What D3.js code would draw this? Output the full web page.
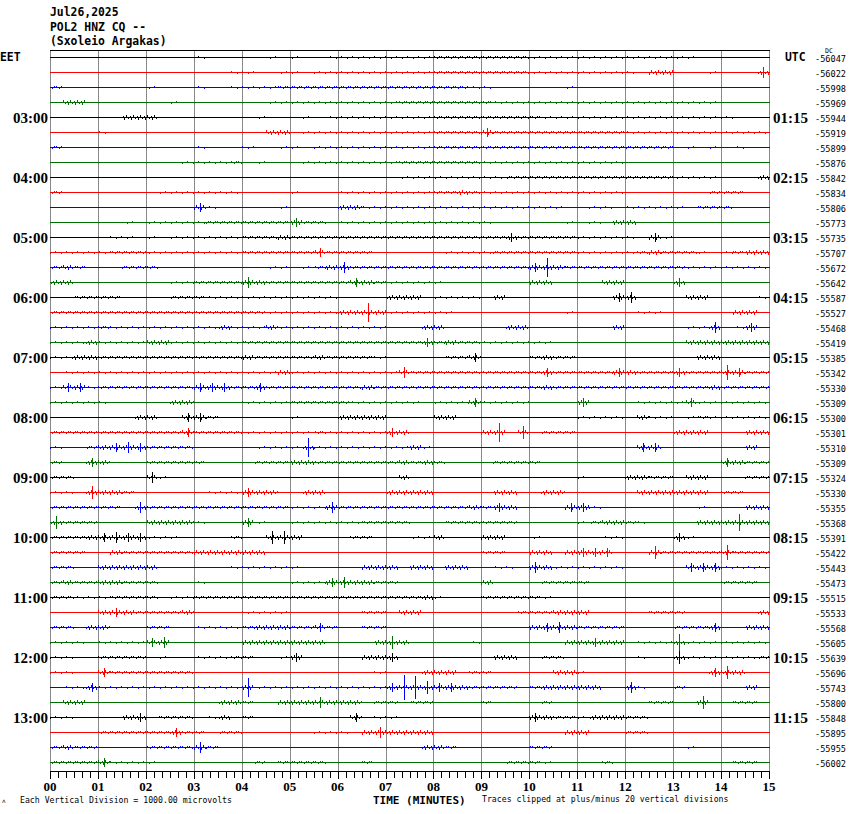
<!DOCTYPE html>
<html><head><meta charset="utf-8">
<script src="https://cdn.jsdelivr.net/npm/d3@7"></script>
<style>body{margin:0;background:#fff}svg{display:block}</style>
</head><body><svg id="c" width="850" height="814"></svg>
<script>
// ---------- data ----------
const headerLines = ["Jul26,2025", "POL2 HNZ CQ --", "(Sxoleio Argakas)"];
const labelRows = [4, 8, 12, 16, 20, 24, 28, 32, 36, 40, 44];
const eetLabels = ["03:00","04:00","05:00","06:00","07:00","08:00","09:00","10:00","11:00","12:00","13:00"];
const utcLabels = ["01:15","02:15","03:15","04:15","05:15","06:15","07:15","08:15","09:15","10:15","11:15"];
const minuteLabels = ["00","01","02","03","04","05","06","07","08","09","10","11","12","13","14","15"];
const dcValues = [-56047,-56022,-55998,-55969,-55944,-55919,-55899,-55876,-55842,-55834,-55806,-55773,
  -55735,-55707,-55672,-55642,-55587,-55527,-55468,-55419,-55385,-55342,-55330,-55309,
  -55300,-55301,-55310,-55309,-55324,-55330,-55355,-55368,-55391,-55422,-55443,-55473,
  -55515,-55533,-55568,-55605,-55639,-55696,-55743,-55800,-55848,-55895,-55955,-56002];
// amplitude envelope per 15-second bin (4 per minute), hex digit = px level
const traceEnvelopes = [
"0000 0000 0000 1000 0010 1001 1111 1111 2222 2222 1111 1111 1111 1100 0000",
"0000 0000 0000 0001 1001 1011 1111 1111 2222 2222 1111 1111 1033 0001 0005",
"2000 0000 1000 1001 1112 2222 2222 2222 2221 1000 0001 0000 0000 0000 0000",
"0330 0000 0010 0000 0011 1111 1111 1222 2222 2111 1111 1111 1111 1111 0000",
"0000 0033 3000 0000 0100 0101 1111 1111 2222 2222 2111 1111 1111 1111 1000",
"0000 1000 0000 0000 0033 0111 1111 1111 2222 4222 2222 2222 1111 1111 1111",
"2000 0000 0000 1000 1001 1011 1111 1111 2222 2222 2222 2222 2222 0101 0100",
"0000 0000 0001 1112 0100 0111 1111 1222 2222 1111 1111 1111 0000 0000 0000",
"0000 0000 0000 0000 0000 0000 0000 0111 1111 1122 2222 2222 2222 1111 0003",
"2000 0000 0111 1111 0000 1000 1111 1111 2232 1111 1111 1111 0000 0002 2200",
"0000 0000 0000 4100 0001 0000 3311 1111 1111 1111 1110 0110 1111 1022 2000",
"0000 0010 1111 1222 2222 4220 1111 1111 1111 1000 0001 0103 3000 0000 0000",
"0000 0110 1011 1111 2223 2222 2222 2222 2222 2242 2222 1111 1041 0000 0000",
"1111 1222 1111 1111 2222 2242 2220 0000 0111 1222 2222 1111 1232 2210 1233",
"2320 0022 2000 0000 0011 0123 5222 2222 2222 2222 4932 2222 2222 2111 1111",
"3300 0000 0011 2222 5322 2222 2432 1111 1000 0000 3300 0033 0000 4000 0000",
"0022 2200 0022 2111 1111 1111 0000 3330 1111 0300 0000 0004 5000 0330 0001",
"2222 2222 2222 2222 2211 1111 3393 1111 1100 0000 0001 0000 0110 0000 0330",
"1111 2111 1111 1131 1131 1111 1111 0003 3000 0033 0000 0003 0000 0115 0140",
"1113 1111 3311 1111 2222 2222 2222 2224 2322 1111 1100 0000 0000 0333 3333",
"1133 2222 2222 2222 3222 2232 2221 0000 0224 0000 2322 0000 0000 0033 0000",
"0111 1111 1111 1111 1113 1111 1111 1522 2222 2222 2422 2224 3222 4222 7422",
"1441 2222 2222 4442 2422 2222 2232 2222 2222 2222 2322 2222 2222 2223 2222",
"1111 1000 0033 0000 1111 2222 2111 1110 1114 1111 0000 4000 0111 1411 1111",
"0000 0003 3004 4200 0000 1000 3333 0000 3300 0000 0000 1111 0311 0121 1111",
"2222 2222 2224 2222 1111 1121 1111 4300 0000 3906 0222 0000 0000 3330 0033",
"1002 3454 2222 0000 0111 1911 1111 1131 0000 0000 0000 0000 0440 0000 0030",
"2004 3000 2222 2000 0222 3322 2222 2323 2000 0222 2000 0000 0000 0000 4322",
"2200 0000 5100 0000 0000 0000 0000 0300 0000 0000 0000 1000 3322 0330 0022",
"1106 3320 0000 0111 4330 0330 0000 3333 0000 0330 0330 0000 0333 3330 2200",
"2222 2205 2222 2222 2222 1115 2222 2222 2223 2430 0004 4100 0000 0010 0033",
"6222 0000 3333 1000 4100 1111 1122 2200 0222 2220 0000 1233 2100 0033 3833",
"2223 4544 1110 0002 0066 3000 0220 0011 3000 3300 1000 0011 0000 4100 0000",
"2220 0322 2222 3333 3300 0000 0000 0000 0000 2200 3303 4440 0062 2222 7222",
"2200 3333 3000 0001 1111 1000 0033 3033 0330 0110 5311 1111 0000 0444 1111",
"2322 3322 2000 1000 0000 1114 5332 2000 0000 3000 0222 2000 0000 0000 2220",
"2211 1222 2011 2222 2222 2222 2222 2223 1000 2222 2100 0000 0000 0000 0000",
"0000 3432 2223 0000 1111 0000 0022 0330 0000 0002 2233 3000 0022 2000 0003",
"2203 3000 2200 1111 2333 2242 0022 0000 0000 0000 3453 2222 0000 2224 0033",
"1110 1111 4500 0000 3333 3330 0003 6300 0001 0000 0003 3433 0111 8111 1111",
"1100 2222 0100 1112 2001 4000 0033 4000 0000 0330 0220 0000 0100 6111 1112",
"1100 4222 2222 0000 0000 0000 0001 0003 3302 2000 0033 1000 0000 0004 6300",
"0114 1111 1111 1111 9111 1111 1111 4cb6 4432 2220 2333 3300 5100 2000 0030",
"0330 0000 0000 0033 2003 3353 3302 2022 0000 2000 0200 0000 0022 0060 0220",
"1100 0034 0222 0130 2000 0000 0401 1000 0000 0000 4322 1333 2200 0000 0000",
"0000 2222 2242 2022 0000 0011 1035 3333 0000 0000 0003 3000 2200 0000 0000",
"2322 0000 2222 5200 0000 0000 0000 0003 3200 0000 2200 0000 0000 0100 0000",
"2222 4111 1000 0000 0202 2220 0020 0000 0000 0022 2100 0020 0000 0000 0220"
];
const traceColors = ["#000000", "#ff0000", "#0000ff", "#007000"];

// ---------- drawing ----------
const svg = d3.select("#c");
svg.append("rect").attr("width", 850).attr("height", 814).attr("fill", "#fff");
const x = d3.scaleLinear().domain([0, 15]).range([50, 769]);
const row = d3.scaleLinear().domain([0, 47]).range([57, 762]);
const yTop = 50, yBottom = 771;

// patterns (tile height 15 so rows align with trace rows; trace row mod 15 = 12)
const defs = svg.append("defs");
const patSpecs = {
  a: {w: 11, px: [[0,11],[6,13]]},
  b: {w: 7, px: [[0,11],[3,13],[5,11]]},
  c: {w: 7, px: [[0,10],[0,11],[2,13],[4,11],[5,13],[5,14]]}
};
traceColors.forEach((col, ci) => {
  Object.entries(patSpecs).forEach(([k, sp]) => {
    const p = defs.append("pattern").attr("id", `p${k}${ci}`)
      .attr("patternUnits", "userSpaceOnUse").attr("width", sp.w).attr("height", 15);
    p.selectAll("rect").data(sp.px).join("rect")
      .attr("x", d => d[0]).attr("y", d => d[1]).attr("width", 1).attr("height", 1).attr("fill", col);
  });
});

const mono = "DejaVu Sans Mono, monospace";
const serif = "Liberation Serif, Times New Roman, serif";

// header
svg.selectAll("text.hdr").data(headerLines).join("text").attr("class", "hdr")
  .attr("x", 50).attr("y", (d, i) => 16 + i * 14.5)
  .attr("font-family", mono).attr("font-weight", "bold").attr("font-size", 11.4)
  .text(d => d);

// grid
const minutes = d3.range(0, 16);
svg.append("g").selectAll("line").data(minutes).join("line")
  .attr("x1", d => Math.round(x(d)) + 0.5).attr("x2", d => Math.round(x(d)) + 0.5)
  .attr("y1", yTop).attr("y2", yBottom).attr("stroke", "#888").attr("stroke-width", 1);
svg.append("line").attr("x1", x(0)).attr("x2", x(15) + 1).attr("y1", yTop + 0.5).attr("y2", yTop + 0.5)
  .attr("stroke", "#000");

// traces
const tg = svg.append("g");
traceEnvelopes.forEach((s, i) => {
  const vals = s.replace(/ /g, "").split("").map(c => parseInt(c, 16));
  const y0 = Math.round(row(i));
  const ci = i % 4, col = traceColors[ci];
  tg.append("line").attr("x1", x(0)).attr("x2", x(15) + 1)
    .attr("y1", y0 + 0.5).attr("y2", y0 + 0.5).attr("stroke", col);
  const bins = vals.map((v, k) => ({v, k})).filter(d => d.v > 0);
  const g = tg.append("g");
  g.selectAll("rect").data(bins).join("rect")
    .attr("x", d => Math.round(x(d.k / 4)))
    .attr("width", d => Math.round(x((d.k + 1) / 4)) - Math.round(x(d.k / 4)))
    .attr("y", y0 - 2).attr("height", 5)
    .attr("fill", d => `url(#p${d.v === 1 ? "a" : d.v === 2 ? "b" : "c"}${ci})`);
  g.selectAll("line").data(bins.filter(d => d.v >= 4)).join("line")
    .attr("x1", d => Math.round(x((d.k + 0.5) / 4)) + 0.5)
    .attr("x2", d => Math.round(x((d.k + 0.5) / 4)) + 0.5)
    .attr("y1", d => y0 - d.v).attr("y2", d => y0 + 1 + d.v)
    .attr("stroke", col).attr("stroke-width", 1);
});

// left / right labels
svg.append("text").attr("x", 0).attr("y", 61).attr("font-family", mono).attr("font-weight", "bold")
  .attr("font-size", 11.4).text("EET");
svg.append("text").attr("x", 785).attr("y", 61).attr("font-family", mono).attr("font-weight", "bold")
  .attr("font-size", 11.4).text("UTC");
svg.selectAll("text.eet").data(eetLabels).join("text").attr("class", "eet")
  .attr("x", 13).attr("y", (d, i) => Math.round(row(labelRows[i])) + 6)
  .attr("font-family", serif).attr("font-weight", "bold").attr("font-size", 14.2)
  .attr("textLength", 35).attr("lengthAdjust", "spacingAndGlyphs").text(d => d);
svg.selectAll("text.utc").data(utcLabels).join("text").attr("class", "utc")
  .attr("x", 773).attr("y", (d, i) => Math.round(row(labelRows[i])) + 6)
  .attr("font-family", serif).attr("font-weight", "bold").attr("font-size", 14.2)
  .attr("textLength", 35).attr("lengthAdjust", "spacingAndGlyphs").text(d => d);
svg.selectAll("text.dc").data(dcValues).join("text").attr("class", "dc")
  .attr("x", 815).attr("y", (d, i) => Math.round(row(i)) + 4.5)
  .attr("font-family", mono).attr("font-size", 8.6).text(d => d);
svg.append("text").attr("x", 825).attr("y", 53).attr("font-family", mono).attr("font-size", 6.5)
  .text("DC");

// bottom axis
svg.append("line").attr("x1", x(0)).attr("x2", x(15) + 1).attr("y1", yBottom + 0.5).attr("y2", yBottom + 0.5)
  .attr("stroke", "#000");
const ticks = d3.range(0, 91).map(d => d / 6);
svg.append("g").selectAll("line").data(ticks).join("line")
  .attr("x1", d => Math.round(x(d)) + 0.5).attr("x2", d => Math.round(x(d)) + 0.5)
  .attr("y1", yBottom).attr("y2", (d, i) => i % 6 === 0 ? yBottom + 8 : yBottom + 7)
  .attr("stroke", "#000");
svg.selectAll("text.min").data(minuteLabels).join("text").attr("class", "min")
  .attr("x", (d, i) => x(i)).attr("y", 791).attr("text-anchor", "middle")
  .attr("font-family", serif).attr("font-weight", "bold").attr("font-size", 13).text(d => d);
svg.append("text").attr("x", 373).attr("y", 804).attr("font-family", mono).attr("font-weight", "bold")
  .attr("font-size", 11).text("TIME (MINUTES)");
svg.append("text").attr("x", 20).attr("y", 803).attr("font-family", mono).attr("font-size", 8.2)
  .text("Each Vertical Division = 1000.00 microvolts");
svg.append("text").attr("x", 482).attr("y", 802).attr("font-family", mono).attr("font-size", 8.2)
  .text("Traces clipped at plus/minus 20 vertical divisions");
svg.append("text").attr("x", 2).attr("y", 803).attr("font-family", mono).attr("font-size", 6)
  .text("\u028C");
</script></body></html>
